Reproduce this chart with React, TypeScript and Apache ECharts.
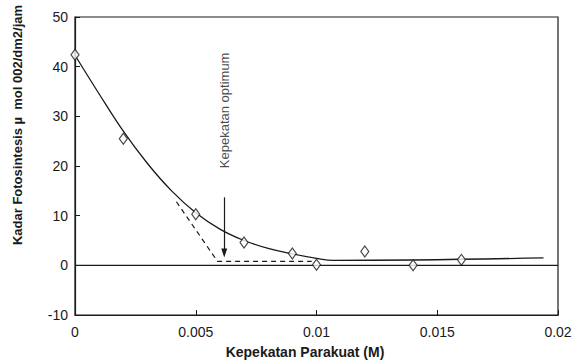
import React, { useEffect, useRef } from "react";
import * as echarts from "echarts";

const xTicks = [0, 0.005, 0.01, 0.015, 0.02];
const yTicks = [-10, 0, 10, 20, 30, 40, 50];

// Observed points
const obsX = [0, 0.002, 0.005, 0.007, 0.009, 0.01, 0.012, 0.014, 0.016];
const obsY = [42.4, 25.5, 10.3, 4.6, 2.4, 0.1, 2.8, 0.0, 1.1];

// Fitted curve
const curveX = [0, 0.001, 0.002, 0.003, 0.004, 0.005, 0.006, 0.007, 0.008, 0.009, 0.01, 0.0107, 0.0194];
const curveY = [42.3, 34.5, 27.0, 20.5, 15.0, 10.6, 7.3, 5.0, 3.4, 2.3, 1.4, 1.0, 1.5];

// Dashed tangent lines
const dashX = [0.0042, 0.0059, 0.0098];
const dashY = [12.8, 0.8, 0.8];

// Zero reference line
const zeroX = [0, 0.02];
const zeroY = [0, 0];

// Optimum arrow & label
const optimumX = 0.00618;
const arrowFromY = 13.7;
const arrowToY = 2.5;
const labelY = 31.2;
const labelText = "Kepekatan optimum";

const xTitle = "Kepekatan Parakuat (M)";
const yTitle = "Kadar Fotosintesis µ  mol 002/dm2/jam";

const FONT = "Liberation Sans, Arial, Helvetica, sans-serif";
const INK = "#1a1a1a";

export default function App() {
  const ref = useRef<HTMLDivElement>(null);
  useEffect(() => {
    if (!ref.current) return;
    document.body.style.margin = "0";
    const chart = echarts.init(ref.current, undefined, { renderer: "svg" });
    const zip = (xs: number[], ys: number[]) => xs.map((x, i) => [x, ys[i]]);
    chart.setOption({
      animation: false,
      backgroundColor: "#fff",
      grid: {
        left: 75,
        right: 22,
        top: 17,
        bottom: 46,
        show: true,
        borderColor: INK,
        borderWidth: 1.2,
      },
      xAxis: {
        type: "value",
        min: xTicks[0],
        max: xTicks[xTicks.length - 1],
        interval: 0.005,
        axisLine: { show: true, onZero: false, lineStyle: { color: INK, width: 1.2 } },
        axisTick: { show: true, inside: true, length: 5, lineStyle: { color: INK } },
        splitLine: { show: false },
        axisLabel: {
          color: INK,
          fontFamily: FONT,
          fontSize: 14,
          margin: 10,
          formatter: (v: number) => String(+v.toFixed(3)),
        },
      },
      yAxis: {
        type: "value",
        min: yTicks[0],
        max: yTicks[yTicks.length - 1],
        interval: 10,
        axisLine: { show: true, onZero: false, lineStyle: { color: INK, width: 1.2 } },
        axisTick: { show: true, inside: true, length: 5, lineStyle: { color: INK } },
        splitLine: { show: false },
        axisLabel: {
          color: INK,
          fontFamily: FONT,
          fontSize: 14,
          margin: 7,
        },
      },
      graphic: [
        {
          type: "text",
          x: 17,
          y: 125,
          rotation: Math.PI / 2,
          style: {
            text: yTitle,
            fontFamily: FONT,
            fontWeight: "bold",
            fontSize: 13,
            fill: INK,
            align: "center",
            verticalAlign: "middle",
          },
        },
        {
          type: "text",
          x: 305,
          y: 352,
          style: {
            text: xTitle,
            fontFamily: FONT,
            fontWeight: "bold",
            fontSize: 14,
            fill: INK,
            align: "center",
            verticalAlign: "middle",
          },
        },
      ],
      series: [
        {
          type: "line",
          data: zip(zeroX, zeroY),
          symbol: "none",
          lineStyle: { color: INK, width: 1.2 },
          silent: true,
        },
        {
          type: "line",
          data: zip(curveX, curveY),
          smooth: 0.4,
          symbol: "none",
          lineStyle: { color: INK, width: 1.3 },
          silent: true,
        },
        {
          type: "line",
          data: zip(dashX, dashY),
          symbol: "none",
          lineStyle: { color: INK, width: 1.2, type: [5, 4] },
          silent: true,
          markLine: {
            silent: true,
            symbol: ["none", "triangle"],
            symbolSize: [6, 9],
            label: { show: false },
            lineStyle: { color: INK, width: 1.2, type: "solid" },
            data: [
              [
                { coord: [optimumX, arrowFromY] },
                { coord: [optimumX, arrowToY] },
              ],
            ],
          },
        },
        {
          type: "scatter",
          data: [[optimumX, labelY]],
          symbolSize: 0,
          silent: true,
          label: {
            show: true,
            position: "inside",
            rotate: 90,
            formatter: labelText,
            color: INK,
            fontFamily: FONT,
            fontSize: 13,
          },
        },
        {
          type: "scatter",
          data: zip(obsX, obsY),
          symbol: "diamond",
          symbolSize: [8, 11],
          itemStyle: { color: "#fff", borderColor: INK, borderWidth: 1.2 },
          silent: true,
          z: 5,
        },
      ],
    });
    return () => chart.dispose();
  }, []);
  return <div ref={ref} style={{ width: 580, height: 361 }} />;
}
